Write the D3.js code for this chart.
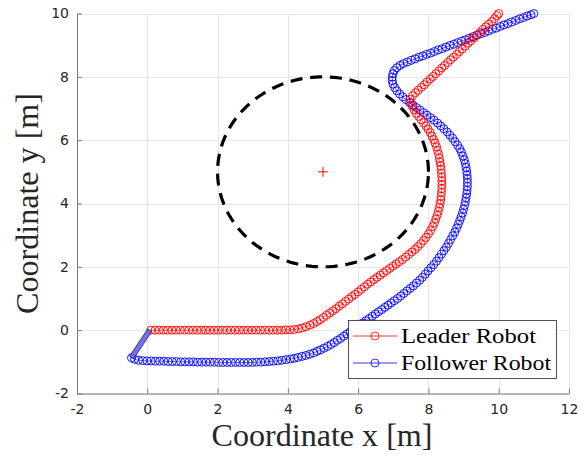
<!DOCTYPE html>
<html><head><meta charset="utf-8">
<script src="https://cdn.jsdelivr.net/npm/d3@7"></script>
<style>html,body{margin:0;padding:0;background:#fff;}svg{display:block;}</style>
</head><body>
<script>
// ---- data ----
const xTicks = [-2,0,2,4,6,8,10,12];
const yTicks = [-2,0,2,4,6,8,10];
const obstacleCenter = [5,5];
const obstacleRadius = 3;
const seriesNames = ["Leader Robot","Follower Robot"];
const bodyWidth = 0.14;

const leaderX = [0.10,0.22,0.34,0.46,0.58,0.70,0.82,0.94,1.06,1.18,1.30,1.42,1.54,1.66,1.78,1.90,2.02,2.14,2.26,2.38,2.50,2.62,2.74,2.86,2.98,3.10,3.22,3.34,3.46,3.58,3.70,3.82,3.94,4.06,
4.18,4.30,4.41,4.52,4.63,4.73,4.83,4.92,5.01,5.10,5.19,5.28,5.37,5.46,5.55,5.64,5.73,5.82,5.91,6.00,6.09,6.18,6.27,6.36,6.45,6.54,6.63,6.72,6.81,6.90,6.99,7.08,7.17,7.26,7.35,7.44,7.53,7.62,7.70,7.78,7.86,7.93,8.00,8.06,8.12,8.17,8.21,8.25,8.28,8.31,8.33,8.35,8.36,8.37,8.38,8.38,8.38,8.38,8.37,8.36,8.35,8.33,8.31,8.29,8.26,8.23,8.19,8.15,8.10,8.05,7.99,7.93,7.86,7.79,7.72,7.65,7.59,7.54,7.50,7.48,
7.55,7.63,7.71,7.80,7.88,7.96,8.05,8.13,8.21,8.30,8.38,8.46,8.55,8.63,8.71,8.80,8.88,8.96,9.05,9.13,9.21,9.30,9.38,9.46,9.55,9.63,9.71,9.80,9.88,9.95,10.0];
const leaderY = [0,0,0,0,0,0,0,0,0,0,0,0,0,0,0,0,0,0,0,0,0,0,0,0,0,0,0,0,0,0,0,0,0.01,0.01,
0.02,0.04,0.07,0.11,0.16,0.21,0.27,0.33,0.40,0.47,0.54,0.61,0.68,0.76,0.83,0.91,0.98,1.06,1.13,1.21,1.29,1.37,1.45,1.52,1.60,1.67,1.74,1.81,1.88,1.95,2.02,2.09,2.16,2.23,2.31,2.39,2.47,2.55,2.64,2.73,2.83,2.93,3.04,3.15,3.27,3.39,3.51,3.63,3.75,3.87,3.99,4.11,4.23,4.35,4.47,4.59,4.71,4.83,4.95,5.07,5.19,5.31,5.43,5.55,5.67,5.79,5.91,6.02,6.13,6.24,6.35,6.45,6.55,6.65,6.75,6.85,6.96,7.07,7.18,7.29,
7.41,7.50,7.58,7.67,7.75,7.84,7.93,8.01,8.10,8.19,8.28,8.36,8.45,8.54,8.62,8.71,8.80,8.88,8.97,9.06,9.14,9.23,9.32,9.40,9.49,9.58,9.66,9.75,9.84,9.93,10.0];

const followerX = [-0.45,-0.36,-0.25,-0.13,-0.01,0.11,0.23,0.35,0.47,0.59,0.71,0.83,0.95,1.07,1.19,1.31,1.43,1.55,1.67,1.79,1.91,2.03,2.15,2.27,2.39,2.51,2.63,2.75,2.87,2.99,3.11,3.23,3.35,3.47,3.59,3.71,3.83,3.95,4.07,4.18,4.29,4.40,4.51,4.62,4.73,4.83,4.93,5.03,5.13,5.23,5.32,5.41,5.50,5.59,5.68,5.77,5.86,5.95,6.04,6.13,6.22,6.31,6.40,6.49,6.58,6.67,6.76,6.85,6.94,7.03,7.12,7.21,7.30,7.39,7.48,7.57,7.66,7.75,7.83,7.91,7.99,8.07,8.15,8.23,8.30,8.37,8.44,8.51,8.57,8.63,8.69,8.75,8.80,8.85,8.89,8.93,8.97,9.00,9.03,9.05,9.07,9.09,9.10,9.11,9.11,9.11,9.10,9.09,9.07,9.05,9.02,8.98,8.94,8.89,8.83,8.76,8.69,8.61,8.53,8.44,8.35,8.26,8.16,8.06,7.96,7.86,7.76,7.66,7.56,7.46,7.36,7.27,7.18,7.10,7.04,6.99,6.97,6.97,6.99,7.03,7.10,7.19,7.29,7.40,7.51,7.62,7.73,7.84,7.95,8.06,8.17,8.28,8.39,8.50,8.61,8.72,8.83,8.94,9.05,9.16,9.27,9.38,9.49,9.60,9.71,9.82,9.93,10.04,10.15,10.26,10.37,10.48,10.59,10.70,10.81,10.92,11.0];
const followerY = [-0.87,-0.92,-0.95,-0.96,-0.97,-0.97,-0.98,-0.98,-0.98,-0.99,-0.99,-0.99,-1.00,-1.00,-1.00,-1.00,-1.01,-1.01,-1.01,-1.01,-1.01,-1.02,-1.02,-1.02,-1.02,-1.02,-1.02,-1.02,-1.02,-1.02,-1.01,-1.01,-1.00,-0.99,-0.98,-0.97,-0.95,-0.93,-0.91,-0.89,-0.86,-0.83,-0.80,-0.76,-0.72,-0.67,-0.62,-0.57,-0.51,-0.45,-0.39,-0.32,-0.26,-0.19,-0.12,-0.05,0.02,0.09,0.16,0.23,0.30,0.37,0.44,0.51,0.58,0.65,0.72,0.79,0.86,0.93,1.00,1.08,1.16,1.24,1.32,1.40,1.49,1.58,1.67,1.77,1.87,1.97,2.07,2.18,2.29,2.40,2.51,2.62,2.74,2.86,2.98,3.10,3.22,3.34,3.46,3.58,3.70,3.82,3.94,4.06,4.18,4.30,4.42,4.54,4.66,4.78,4.90,5.02,5.14,5.26,5.38,5.50,5.62,5.73,5.84,5.95,6.06,6.16,6.26,6.36,6.45,6.54,6.63,6.71,6.79,6.87,6.95,7.03,7.11,7.19,7.28,7.37,7.46,7.56,7.66,7.77,7.88,7.99,8.10,8.20,8.29,8.36,8.42,8.47,8.52,8.57,8.62,8.66,8.71,8.75,8.80,8.85,8.89,8.94,8.99,9.03,9.08,9.13,9.17,9.22,9.27,9.31,9.36,9.40,9.45,9.50,9.54,9.59,9.64,9.68,9.73,9.78,9.83,9.87,9.92,9.96,10.0];

// ---- drawing ----
const W = 584, H = 457;
const svg = d3.select("body").append("svg").attr("width", W).attr("height", H);
const x = d3.scaleLinear().domain([-2,12]).range([77,569]);
const y = d3.scaleLinear().domain([-2,10]).range([393.5,13.5]);

// grid
const grid = svg.append("g").attr("stroke","#e6e6e6").attr("stroke-width",1);
grid.selectAll("line.gx").data(xTicks).join("line")
  .attr("x1",d=>Math.round(x(d))+0.5).attr("x2",d=>Math.round(x(d))+0.5)
  .attr("y1",y(-2)).attr("y2",y(10));
grid.selectAll("line.gy").data(yTicks).join("line")
  .attr("y1",d=>Math.round(y(d))+0.5).attr("y2",d=>Math.round(y(d))+0.5)
  .attr("x1",x(-2)).attr("x2",x(12));

// axes
const fmt = d => String(d);
const xAxis = d3.axisBottom(x).tickValues(xTicks).tickFormat(fmt).tickSizeInner(-5).tickSizeOuter(0).tickPadding(11);
const yAxis = d3.axisLeft(y).tickValues(yTicks).tickFormat(fmt).tickSizeInner(-5).tickSizeOuter(0).tickPadding(8);
const gx = svg.append("g").attr("transform",`translate(0,${y(-2)})`).call(xAxis);
const gy = svg.append("g").attr("transform",`translate(${x(-2)},0)`).call(yAxis);
[gx,gy].forEach(g=>{
  g.select(".domain").attr("stroke","#7a7a7a").attr("stroke-width",1);
  g.selectAll(".tick line").attr("stroke","#7a7a7a");
  g.selectAll(".tick text").attr("fill","#262626").style("font-family","DejaVu Sans, sans-serif").style("font-size","14px");
});

// obstacle circle
const circPts = d3.range(0, 361, 2).map(a=>[obstacleCenter[0]+obstacleRadius*Math.cos(a*Math.PI/180), obstacleCenter[1]+obstacleRadius*Math.sin(a*Math.PI/180)]);
svg.append("path").datum(circPts)
  .attr("d", d3.line().x(d=>x(d[0])).y(d=>y(d[1])))
  .attr("fill","none").attr("stroke","#000").attr("stroke-width",3.2)
  .attr("stroke-dasharray","12,7.8");
// center plus
const cx = x(obstacleCenter[0]), cy = y(obstacleCenter[1]);
svg.append("path").attr("d",`M${cx-5},${cy}H${cx+5}M${cx},${cy-5}V${cy+5}`).attr("stroke","#ff0000").attr("stroke-width",1);

// trajectories
const leader = leaderX.map((v,i)=>[v, leaderY[i]]);
const follower = followerX.map((v,i)=>[v, followerY[i]]);
function drawSeries(data, color){
  const g = svg.append("g");
  g.append("path").datum(data).attr("d", d3.line().x(d=>x(d[0])).y(d=>y(d[1])))
   .attr("fill","none").attr("stroke",color).attr("stroke-width",0.6);
  g.selectAll("circle").data(data).join("circle")
   .attr("cx",d=>x(d[0])).attr("cy",d=>y(d[1])).attr("r",4)
   .attr("fill","none").attr("stroke",color).attr("stroke-width",0.9);
}
drawSeries(follower, "#0000ff");
drawSeries(leader, "#ff0000");

// robot body connecting leader start and follower start
const p0 = leader[0], p1 = follower[0];
const dx = p1[0]-p0[0], dy = p1[1]-p0[1], len = Math.hypot(dx,dy);
const nx = -dy/len*bodyWidth/2, ny = dx/len*bodyWidth/2;
const body = [[p0[0]+nx-0.03,p0[1]+ny],[p1[0]+nx,p1[1]+ny],[p1[0]-nx,p1[1]-ny],[p0[0]-nx-0.03,p0[1]-ny]];
svg.append("path").attr("d", d3.line().x(d=>x(d[0])).y(d=>y(d[1]))(body)+"Z")
  .attr("fill","#6464f0").attr("fill-opacity",0.9).attr("stroke","#1a1a4a").attr("stroke-width",0.8);

// legend
const lg = svg.append("g");
lg.append("rect").attr("x",348.5).attr("y",320.5).attr("width",208).attr("height",58)
  .attr("fill","#fff").attr("stroke","#262626").attr("stroke-width",0.8);
const colors = ["#ff0000","#0000ff"];
seriesNames.forEach((name,i)=>{
  const ly = 336 + i*27;
  lg.append("line").attr("x1",353).attr("x2",397).attr("y1",ly).attr("y2",ly).attr("stroke",colors[i]).attr("stroke-width",0.8);
  lg.append("circle").attr("cx",375).attr("cy",ly).attr("r",4).attr("fill","none").attr("stroke",colors[i]).attr("stroke-width",0.8);
  lg.append("text").attr("x",401).attr("y",ly+7).text(name)
    .style("font-family","Liberation Serif, serif").style("font-size","22px").attr("fill","#000")
    .attr("textLength", i===0?135:150).attr("lengthAdjust","spacingAndGlyphs");
});

// axis titles
svg.append("text").attr("x",322).attr("y",446).attr("text-anchor","middle")
  .style("font-family","Liberation Serif, serif").style("font-size","31px").attr("fill","#262626")
  .attr("textLength",221).attr("lengthAdjust","spacingAndGlyphs")
  .text("Coordinate x [m]");
svg.append("text").attr("transform",`translate(38,${203.5}) rotate(-90)`).attr("text-anchor","middle")
  .style("font-family","Liberation Serif, serif").style("font-size","31px").attr("fill","#262626")
  .attr("textLength",221).attr("lengthAdjust","spacingAndGlyphs")
  .text("Coordinate y [m]");
</script>
</body></html>
